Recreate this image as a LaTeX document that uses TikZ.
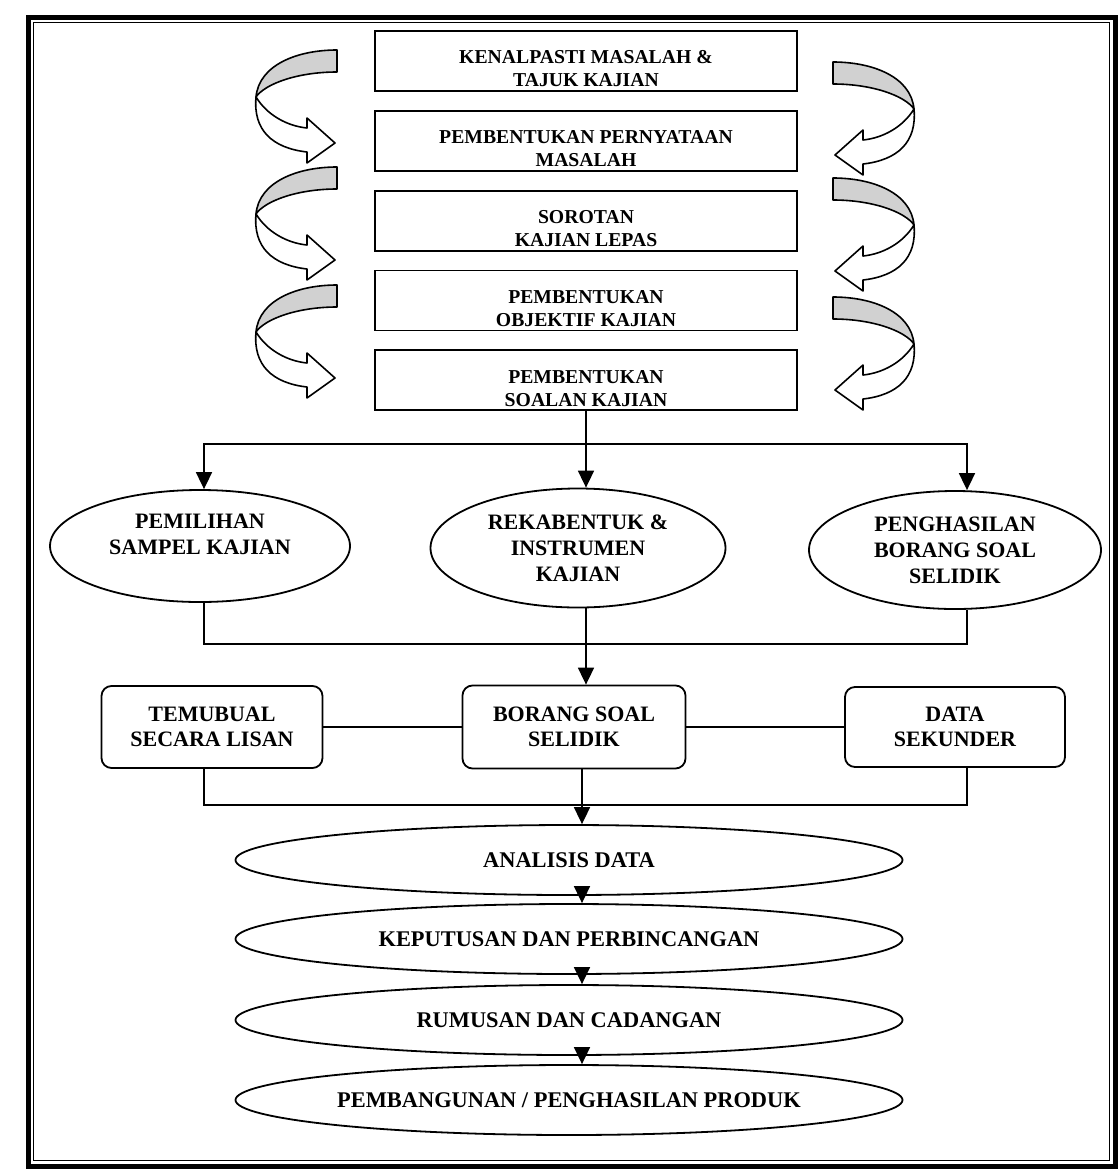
\documentclass[tikz,border=0pt]{standalone}
\usepackage{fontspec}
\setmainfont{Liberation Serif}
\usetikzlibrary{arrows.meta, positioning, shapes.geometric}

% struts that move the text inside a shape
\newcommand{\dropline}{\rule{0pt}{29pt}}
\newcommand{\liftline}{\rule[-24pt]{0pt}{24pt}}

\tikzset{
  stepbox/.style={draw, line width=1.8pt, minimum width=422pt, minimum height=60pt,
    inner sep=0pt, align=center, font=\bfseries\fontsize{19.7}{23}\selectfont},
  oval/.style={draw, ellipse, line width=1.8pt, inner sep=0pt, align=center,
    font=\bfseries\fontsize{22}{26}\selectfont},
  roundbox/.style={draw, rounded corners=10pt, line width=1.8pt, minimum width=221pt,
    minimum height=82pt, inner sep=0pt, align=center, font=\bfseries\fontsize{22}{25}\selectfont},
  wideoval/.style={oval, minimum width=667pt, minimum height=70pt,
    font=\bfseries\fontsize{22.4}{26}\selectfont},
  arr/.style={-{Triangle[length=17pt,width=16pt]}, line width=1.7pt},
  link/.style={line width=1.7pt},
  curvarrow/.pic={
    % back of the ribbon
    \filldraw[fill=black!18, line width=1.6pt, line join=round]
      (0,0) .. controls (-40,0) and (-78,15) .. (-81,47)
      .. controls (-72,34) and (-40,22) .. (0,22) -- cycle;
    % front of the ribbon with its head
    \filldraw[fill=white, line width=1.6pt, line join=round]
      (-81,47) .. controls (-70,65) and (-50,76) .. (-30,78) -- (-30,68) -- (-2,93)
      -- (-30,113) -- (-30,102) .. controls (-65,98) and (-84,80) .. (-81,47) -- cycle;
  }
}

\begin{document}
\begin{tikzpicture}[x=1pt, y=-1pt]
  \useasboundingbox (0,0) rectangle (1118,1176);
  % double frame
  \draw[line width=5pt] (28,17) rectangle (1115,1166);
  \draw[line width=1.2pt] (33.5,22.5) rectangle (1109.5,1160.5);

  % research steps
  \node[stepbox] (kenal) at (586,61) {\dropline KENALPASTI MASALAH \&\\TAJUK KAJIAN};
  \node[stepbox, below=18pt of kenal] (pernyataan) {\dropline PEMBENTUKAN PERNYATAAN\\MASALAH};
  \node[stepbox, below=18pt of pernyataan] (sorotan) {\dropline SOROTAN\\KAJIAN LEPAS};
  \node[stepbox, below=18pt of sorotan] (objektif) {\dropline PEMBENTUKAN\\OBJEKTIF KAJIAN};
  \node[stepbox, below=18pt of objektif] (soalan) {\dropline PEMBENTUKAN\\SOALAN KAJIAN};

  % ribbon arrows on both sides
  \foreach \ya/\yb in {50/62, 167/178, 285/297} {
    \pic at (337,\ya) {curvarrow};
    \pic[xscale=-1] at (833,\yb) {curvarrow};
  }

  % sample, instrument, questionnaire
  \node[oval, minimum width=300pt, minimum height=112pt] (sampel) at (200,546)
    {PEMILIHAN\\SAMPEL KAJIAN\liftline};
  \node[oval, minimum width=295pt, minimum height=119pt] (instrumen) at (578,548)
    {REKABENTUK \&\\INSTRUMEN\\KAJIAN};
  \node[oval, minimum width=292pt, minimum height=118pt] (penghasilan) at (955,550)
    {PENGHASILAN\\BORANG SOAL\\SELIDIK};

  % data sources
  \node[roundbox] (temubual) at (212,727) {TEMUBUAL\\SECARA LISAN};
  \node[roundbox, minimum width=223pt, minimum height=83pt] (borang) at (574,727) {BORANG SOAL\\SELIDIK};
  \node[roundbox, minimum width=220pt, minimum height=80pt] (sekunder) at (955,727) {DATA\\SEKUNDER};

  % final stages
  \node[wideoval] (analisis) at (569,860) {ANALISIS DATA};
  \node[wideoval] (keputusan) at (569,939) {KEPUTUSAN DAN PERBINCANGAN};
  \node[wideoval] (rumusan) at (569,1020) {RUMUSAN DAN CADANGAN};
  \node[wideoval] (produk) at (569,1100) {PEMBANGUNAN / PENGHASILAN PRODUK};

  % connectors
  \coordinate (lcol) at (204,0);
  \coordinate (rcol) at (967,0);
  \coordinate (fork) at (586,444);
  \coordinate (join) at (586,644);
  \coordinate (merge) at (582,805);

  \draw[link] (soalan) -- (fork);
  \draw[arr] (fork) -| (lcol |- sampel.north);
  \draw[arr] (fork) -| (rcol |- penghasilan.north);
  \draw[arr] (fork) -- (fork |- instrumen.north);

  \draw[link] (lcol |- sampel.south) |- (join) -| (rcol |- penghasilan.south);
  \draw[arr] (join |- instrumen.south) -- (join |- borang.north);

  \draw[link] (temubual) -- (borang);
  \draw[link] (borang) -- (sekunder);
  \draw[link] (lcol |- temubual.south) |- (merge) -| (rcol |- sekunder.south);
  \draw[arr] (merge |- borang.south) -- (merge |- analisis.north);

  \draw[arr] (merge |- analisis.south) -- (merge |- keputusan.north);
  \draw[arr] (merge |- keputusan.south) -- (merge |- rumusan.north);
  \draw[arr] (merge |- rumusan.south) -- (merge |- produk.north);
\end{tikzpicture}
\end{document}
